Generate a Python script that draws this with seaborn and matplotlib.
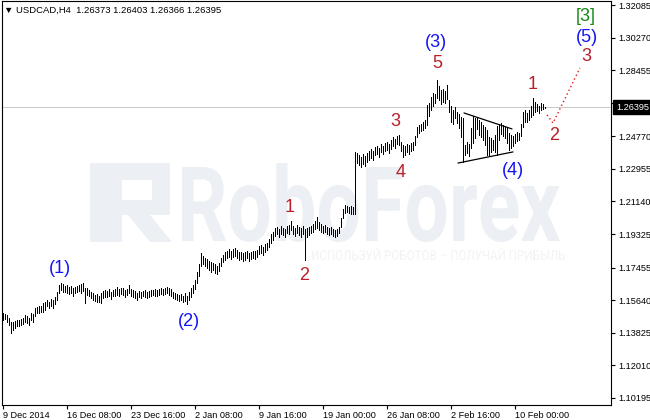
import numpy as np
import pandas as pd
import matplotlib
matplotlib.use("Agg")
import matplotlib.pyplot as plt
import seaborn as sns
from matplotlib.textpath import TextPath
from matplotlib.font_manager import FontProperties
from matplotlib.patches import PathPatch, Polygon
from matplotlib.transforms import Affine2D, blended_transform_factory

# USDCAD H4 bars (one line = one trading day, 6 bars)
highs = [
    1.1493, 1.1487, 1.1482, 1.1465, 1.1443, 1.1443,
    1.1448, 1.1454, 1.1454, 1.1459, 1.1465, 1.1482,
    1.1476, 1.1465, 1.1493, 1.1487, 1.1521, 1.1526,
    1.1532, 1.1532, 1.1548, 1.1554, 1.1565, 1.1554,
    1.1571, 1.1565, 1.1582, 1.1610, 1.1649, 1.1660,
    1.1654, 1.1643, 1.1649, 1.1638, 1.1643, 1.1632,
    1.1638, 1.1643, 1.1649, 1.1654, 1.1660, 1.1632,
    1.1632, 1.1621, 1.1610, 1.1604, 1.1593, 1.1599,
    1.1587, 1.1604, 1.1615, 1.1621, 1.1615, 1.1627,
    1.1610, 1.1621, 1.1627, 1.1638, 1.1627, 1.1632,
    1.1632, 1.1621, 1.1627, 1.1649, 1.1627, 1.1621,
    1.1615, 1.1604, 1.1615, 1.1610, 1.1615, 1.1621,
    1.1610, 1.1615, 1.1621, 1.1621, 1.1627, 1.1621,
    1.1627, 1.1632, 1.1627, 1.1632, 1.1638, 1.1632,
    1.1627, 1.1610, 1.1604, 1.1599, 1.1593, 1.1599,
    1.1587, 1.1604, 1.1587, 1.1610, 1.1632, 1.1649,
    1.1677, 1.1721, 1.1766, 1.1827, 1.1810, 1.1799,
    1.1794, 1.1782, 1.1777, 1.1771, 1.1766, 1.1755,
    1.1771, 1.1799, 1.1816, 1.1833, 1.1838, 1.1849,
    1.1838, 1.1849, 1.1855, 1.1844, 1.1833, 1.1833,
    1.1827, 1.1833, 1.1838, 1.1827, 1.1833, 1.1838,
    1.1838, 1.1844, 1.1866, 1.1872, 1.1860, 1.1877,
    1.1883, 1.1905, 1.1933, 1.1944, 1.1966, 1.1972,
    1.1961, 1.1977, 1.1966, 1.1961, 1.1977, 1.1983,
    1.2005, 1.1977, 1.1966, 1.1983, 1.1972, 1.1966,
    1.1977, 1.1961, 1.1966, 1.1972, 1.1977, 1.1988,
    1.2005, 1.2028, 1.1999, 1.1988, 1.1977, 1.1983,
    1.1972, 1.1966, 1.1972, 1.1961, 1.1955, 1.1961,
    1.1972, 1.2022, 1.2072, 1.2094, 1.2089, 1.2083,
    1.2089, 1.2083, 1.2390, 1.2384, 1.2373, 1.2362,
    1.2379, 1.2368, 1.2384, 1.2395, 1.2406, 1.2395,
    1.2418, 1.2423, 1.2412, 1.2434, 1.2423, 1.2440,
    1.2445, 1.2434, 1.2456, 1.2473, 1.2462, 1.2479,
    1.2484, 1.2445, 1.2429, 1.2423, 1.2434, 1.2429,
    1.2440, 1.2445, 1.2479, 1.2529, 1.2540, 1.2546,
    1.2557, 1.2568, 1.2651, 1.2663, 1.2696, 1.2718,
    1.2713, 1.2791, 1.2757, 1.2735, 1.2741, 1.2729,
    1.2763, 1.2679, 1.2646, 1.2624, 1.2640, 1.2613,
    1.2601, 1.2585, 1.2579, 1.2429, 1.2445, 1.2434,
    1.2523, 1.2590, 1.2579, 1.2585, 1.2568, 1.2557,
    1.2540, 1.2529, 1.2512, 1.2473, 1.2468, 1.2456,
    1.2484, 1.2535, 1.2546, 1.2551, 1.2540, 1.2529,
    1.2523, 1.2496, 1.2484, 1.2479, 1.2490, 1.2501,
    1.2496, 1.2546, 1.2613, 1.2624, 1.2607, 1.2624,
    1.2646, 1.2690, 1.2668, 1.2657, 1.2646, 1.2663,
    1.2657, 1.26403,
]
lows = [
    1.1454, 1.1459, 1.1443, 1.1426, 1.1381, 1.1398,
    1.1409, 1.1420, 1.1420, 1.1426, 1.1431, 1.1443,
    1.1437, 1.1426, 1.1454, 1.1443, 1.1476, 1.1493,
    1.1493, 1.1498, 1.1498, 1.1509, 1.1532, 1.1521,
    1.1532, 1.1521, 1.1543, 1.1565, 1.1604, 1.1621,
    1.1610, 1.1610, 1.1604, 1.1599, 1.1604, 1.1587,
    1.1604, 1.1610, 1.1615, 1.1604, 1.1615, 1.1548,
    1.1593, 1.1587, 1.1576, 1.1565, 1.1560, 1.1554,
    1.1554, 1.1548, 1.1576, 1.1582, 1.1582, 1.1587,
    1.1571, 1.1587, 1.1587, 1.1593, 1.1587, 1.1599,
    1.1593, 1.1582, 1.1593, 1.1604, 1.1587, 1.1582,
    1.1576, 1.1565, 1.1582, 1.1576, 1.1587, 1.1582,
    1.1576, 1.1582, 1.1587, 1.1593, 1.1587, 1.1587,
    1.1593, 1.1599, 1.1593, 1.1599, 1.1604, 1.1593,
    1.1587, 1.1576, 1.1571, 1.1565, 1.1560, 1.1565,
    1.1554, 1.1560, 1.1543, 1.1565, 1.1582, 1.1604,
    1.1627, 1.1660, 1.1699, 1.1755, 1.1766, 1.1755,
    1.1743, 1.1732, 1.1721, 1.1732, 1.1716, 1.1710,
    1.1727, 1.1755, 1.1777, 1.1788, 1.1799, 1.1805,
    1.1794, 1.1805, 1.1810, 1.1799, 1.1788, 1.1794,
    1.1782, 1.1788, 1.1799, 1.1782, 1.1794, 1.1799,
    1.1794, 1.1805, 1.1821, 1.1827, 1.1816, 1.1833,
    1.1844, 1.1860, 1.1883, 1.1899, 1.1922, 1.1933,
    1.1916, 1.1933, 1.1927, 1.1916, 1.1938, 1.1933,
    1.1955, 1.1933, 1.1922, 1.1938, 1.1927, 1.1916,
    1.1933, 1.1788, 1.1916, 1.1927, 1.1938, 1.1944,
    1.1961, 1.1966, 1.1955, 1.1944, 1.1938, 1.1944,
    1.1933, 1.1927, 1.1933, 1.1922, 1.1916, 1.1922,
    1.1938, 1.1972, 1.2022, 1.2050, 1.2055, 1.2050,
    1.2044, 1.2044, 1.2044, 1.2328, 1.2317, 1.2306,
    1.2323, 1.2312, 1.2334, 1.2345, 1.2356, 1.2345,
    1.2373, 1.2379, 1.2362, 1.2390, 1.2379, 1.2395,
    1.2401, 1.2384, 1.2406, 1.2423, 1.2412, 1.2434,
    1.2429, 1.2395, 1.2362, 1.2373, 1.2390, 1.2379,
    1.2395, 1.2401, 1.2429, 1.2473, 1.2496, 1.2507,
    1.2512, 1.2523, 1.2540, 1.2590, 1.2624, 1.2646,
    1.2663, 1.2690, 1.2679, 1.2657, 1.2668, 1.2663,
    1.2685, 1.2613, 1.2557, 1.2546, 1.2579, 1.2551,
    1.2523, 1.2473, 1.2334, 1.2373, 1.2384, 1.2368,
    1.2412, 1.2440, 1.2468, 1.2518, 1.2484, 1.2473,
    1.2456, 1.2429, 1.2373, 1.2368, 1.2390, 1.2401,
    1.2390, 1.2373, 1.2456, 1.2490, 1.2479, 1.2468,
    1.2440, 1.2401, 1.2412, 1.2423, 1.2440, 1.2451,
    1.2456, 1.2479, 1.2529, 1.2557, 1.2557, 1.2568,
    1.2585, 1.2596, 1.2613, 1.2618, 1.2607, 1.2624,
    1.2629, 1.26366,
]
last_price = 1.26395

price_ticks = [1.32085, 1.30270, 1.28455, 1.26640, 1.24770, 1.22955, 1.21140,
               1.19325, 1.17455, 1.15640, 1.13825, 1.12010, 1.10195]
time_labels = ["9 Dec 2014", "16 Dec 08:00", "23 Dec 16:00", "2 Jan 08:00", "9 Jan 16:00",
               "19 Jan 00:00", "26 Jan 08:00", "2 Feb 16:00", "10 Feb 00:00"]
time_label_bars = [0, 32, 64, 96, 128, 160, 192, 224, 256]

# triangle (wave 4) and forecast path
tri_upper_bars = [230.5, 254.5]
tri_upper_prices = [1.2607, 1.2518]
tri_lower_bars = [227.5, 255]
tri_lower_prices = [1.2328, 1.2390]
forecast_bars = [272, 275, 288.5]
forecast_prices = [1.2596, 1.2551, 1.2858]

wave_labels = ["[3]", "(5)", "3", "1", "2", "(4)", "(3)", "5", "3", "4", "1", "2", "(1)", "(2)"]
wave_bars = [291.5, 292, 291.5, 265, 275.5, 255, 216.5, 217, 196, 199, 143.5, 150.5, 28.5, 93]
wave_prices = [1.3142, 1.3030, 1.2919, 1.2763, 1.2479, 1.2284, 1.3002, 1.2885,
               1.2562, 1.2278, 1.2078, 1.1704, 1.1743, 1.1443]
wave_kinds = ["g", "b", "r", "r", "r", "b", "b", "r", "r", "r", "r", "r", "b", "b"]
kind_colors = {"g": "#17891a", "b": "#1414f5", "r": "#b8202a"}

bars = pd.DataFrame({"bar": np.arange(len(highs)), "high": highs, "low": lows})

sns.set_theme(style="white")
plt.rcParams['font.family'] = ['Liberation Sans', 'DejaVu Sans']

W, H = 650, 420
fig = plt.figure(figsize=(6.5, 4.2), dpi=100)
ax = fig.add_axes([2 / W, 15 / H, 609 / W, 404 / H])
ax.set_facecolor("white")


def add_word(text, box, color, weight="normal"):
    x0, y0, x1, y1 = box
    tp = TextPath((0, 0), text, prop=FontProperties(family="Roboto", weight=weight))
    bb = tp.get_extents()
    tr = (Affine2D().translate(-bb.x0, -bb.y0)
          .scale((x1 - x0) / bb.width / W, (y1 - y0) / bb.height / H)
          .translate(x0 / W, 1 - y1 / H))
    ax.add_patch(PathPatch(tr.transform_path(tp), transform=fig.transFigure,
                           fc=color, ec="none", zorder=0))


# RoboForex watermark
wm = "#eceff3"
add_word("RoboForex", (182, 163, 560, 242), wm, weight="bold")
add_word("ИСПОЛЬЗУЙ РОБОТОВ – ПОЛУЧАЙ ПРИБЫЛЬ", (312, 248, 565, 260), "#f1f3f6")
icon = [
    [(90, 163), (170, 163), (170, 215), (122, 215), (122, 242), (90, 242)],
    [(128, 215), (150, 215), (172, 242), (150, 242)],
]
for poly in icon:
    pts = [(x / W, 1 - y / H) for x, y in poly]
    ax.add_patch(Polygon(pts, closed=True, transform=fig.transFigure, fc=wm, ec="none", zorder=0))
ax.add_patch(Polygon([(122 / W, 1 - 180 / H), (152 / W, 1 - 180 / H), (152 / W, 1 - 200 / H),
                      (122 / W, 1 - 200 / H)], transform=fig.transFigure, fc="white", ec="none", zorder=0.5))

ax.axhline(last_price, color="#c8c8c8", lw=0.7, zorder=1)

ax.vlines(bars["bar"], bars["low"], bars["high"], color="black", lw=0.45,
          antialiased=False, zorder=3)

sns.lineplot(x=tri_upper_bars, y=tri_upper_prices, ax=ax, color="black", lw=0.9, zorder=4)
sns.lineplot(x=tri_lower_bars, y=tri_lower_prices, ax=ax, color="black", lw=0.9, zorder=4)
sns.lineplot(x=forecast_bars, y=forecast_prices, ax=ax, color="#e8141e", lw=1.0,
             linestyle=(0, (1, 2)), zorder=4)

for lab, b, p, k in zip(wave_labels, wave_bars, wave_prices, wave_kinds):
    ax.text(b, p, lab, color=kind_colors[k], fontsize=13, ha="center", va="center", zorder=5)

ax.set_xlim(-0.5, 304)
ax.set_ylim(1.09801, 1.32308)

ax.set_xticks(time_label_bars)
ax.set_xticklabels(time_labels, ha="left")
ax.yaxis.tick_right()
ax.set_yticks(price_ticks)
ax.set_yticklabels([f"{v:.5f}" for v in price_ticks])
ax.tick_params(axis="x", bottom=True, direction="out", length=3, width=0.8, pad=1,
               labelsize=6.6, colors="black")
ax.tick_params(axis="y", right=True, left=False, direction="out", length=3, width=0.8,
               pad=2, labelsize=6.6, colors="black")
ax.set_xlabel("")
ax.set_ylabel("")
for s in ax.spines.values():
    s.set_color("black")
    s.set_linewidth(0.8)
    s.set_visible(True)

trans = blended_transform_factory(ax.transAxes, ax.transData)
ax.text(1.0 + 5 / 609, last_price, f"{last_price:.5f}", transform=trans, ha="left", va="center",
        fontsize=6.6, color="white", clip_on=False, zorder=6,
        bbox=dict(boxstyle="square,pad=0.3", fc="black", ec="black"))

fig.text(4 / W, 1 - 10 / H, "▼ USDCAD,H4  1.26373 1.26403 1.26366 1.26395",
         fontsize=6.8, ha="left", va="center", color="black")

fig.savefig("out.png", dpi=100, facecolor="white")
